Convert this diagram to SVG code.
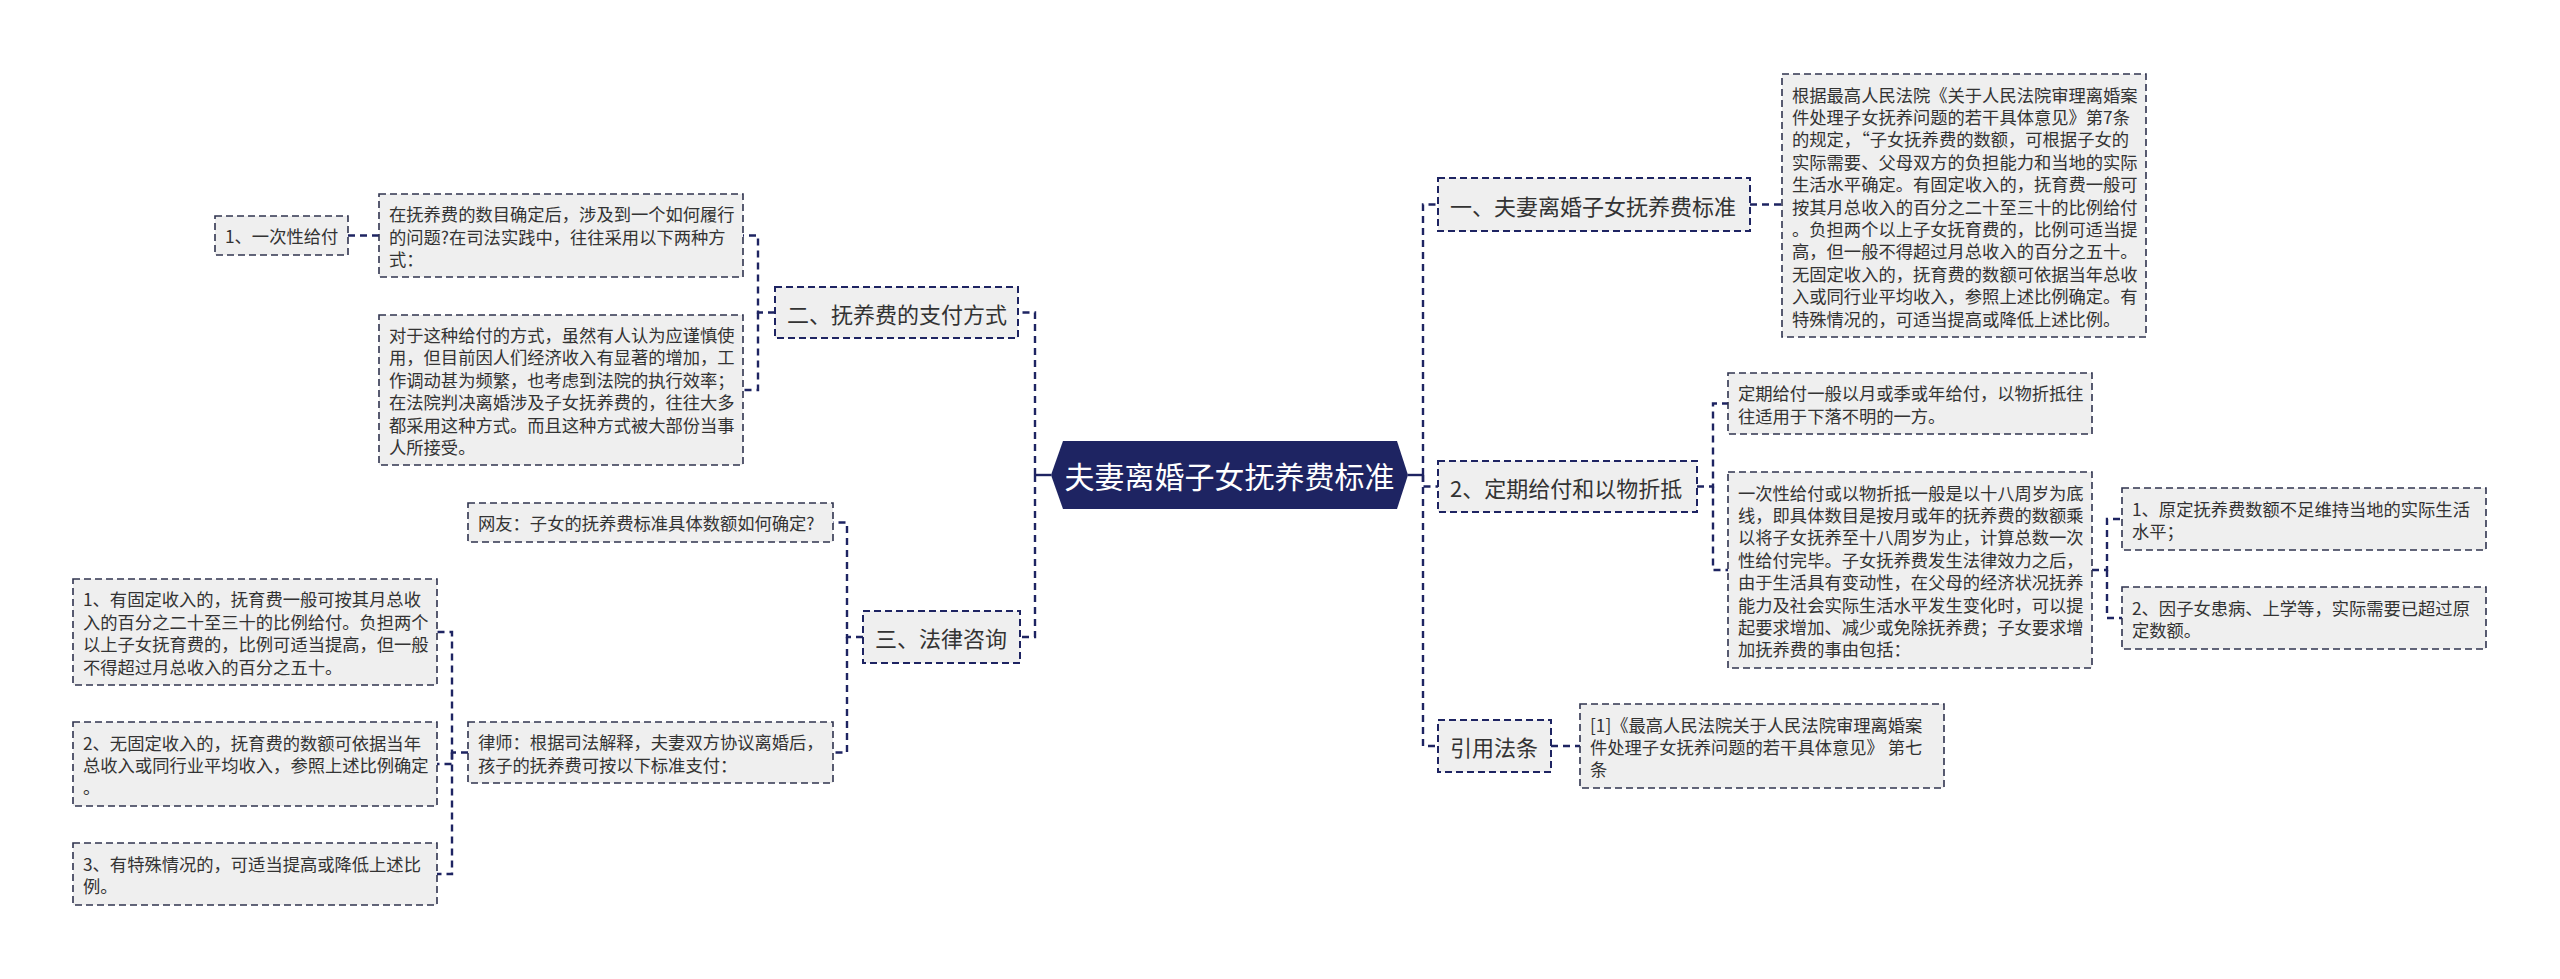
<svg xmlns="http://www.w3.org/2000/svg" width="2560" height="979" viewBox="0 0 2560 979">
<style>
text{font-family:"Noto Sans CJK SC","Microsoft YaHei",sans-serif;dominant-baseline:central;fill:#333333}
.d rect{fill:#efefef;stroke:#30344f;stroke-width:1.6;stroke-dasharray:7 4}
.d text{font-size:17.3px}
.n rect{fill:#efefef;stroke:#1e2462;stroke-width:2;stroke-dasharray:7 4}
.n text{font-size:22px}
.c{fill:none;stroke:#1e2462;stroke-width:2.4;stroke-dasharray:7 5}
.s{fill:none;stroke:#1e2462;stroke-width:2.4}
</style>
<rect width="2560" height="979" fill="#ffffff"/>
<g id="connectors">
<path class="s" d="M1408 475 H1423"/>
<path class="s" d="M1051 475 H1035"/>
<path class="c" d="M1423 475 V204.5 H1438"/>
<path class="c" d="M1423 475 V486.5 H1438"/>
<path class="c" d="M1423 475 V746 H1438"/>
<path class="c" d="M1750 204.5 H1782"/>
<path class="c" d="M1697 486.5 H1713 V403.5 H1728"/>
<path class="c" d="M1713 486.5 V570 H1728"/>
<path class="c" d="M2092 570 H2107 V519 H2122"/>
<path class="c" d="M2107 570 V618 H2122"/>
<path class="c" d="M1551 746 H1580"/>
<path class="c" d="M1035 475 V312.5 H1018"/>
<path class="c" d="M1035 475 V637 H1020"/>
<path class="c" d="M775 312.5 H758 V235.5 H743"/>
<path class="c" d="M758 312.5 V390 H743"/>
<path class="c" d="M379 235.5 H348"/>
<path class="c" d="M863 637 H847 V522.5 H833"/>
<path class="c" d="M847 637 V752.5 H833"/>
<path class="c" d="M468 752.5 H452 V632 H437"/>
<path class="c" d="M452 752.5 V764 H437"/>
<path class="c" d="M452 752.5 V874 H437"/>
</g>
<g id="root">
<polygon points="1051,475 1063,441 1397,441 1408,475 1397,509 1063,509" fill="#1e2462"/>
<text x="1229.5" y="475" text-anchor="middle" style="font-size:30px;fill:#ffffff">夫妻离婚子女抚养费标准</text>
</g>
<g id="n_std" class="n"><rect x="1438" y="178" width="312" height="53"/><text x="1450" y="204.5">一、夫妻离婚子女抚养费标准</text></g>
<g id="d_std" class="d"><rect x="1782" y="74" width="364" height="263"/>
<text><tspan x="1792" y="93.5">根据最高人民法院《关于人民法院审理离婚案</tspan><tspan x="1792" y="115.9">件处理子女抚养问题的若干具体意见》第7条</tspan><tspan x="1792" y="138.3">的规定，“子女抚养费的数额，可根据子女的</tspan><tspan x="1792" y="160.7">实际需要、父母双方的负担能力和当地的实际</tspan><tspan x="1792" y="183.1">生活水平确定。有固定收入的，抚育费一般可</tspan><tspan x="1792" y="205.5">按其月总收入的百分之二十至三十的比例给付</tspan><tspan x="1792" y="227.9">。负担两个以上子女抚育费的，比例可适当提</tspan><tspan x="1792" y="250.3">高，但一般不得超过月总收入的百分之五十。</tspan><tspan x="1792" y="272.7">无固定收入的，抚育费的数额可依据当年总收</tspan><tspan x="1792" y="295.1">入或同行业平均收入，参照上述比例确定。有</tspan><tspan x="1792" y="317.5">特殊情况的，可适当提高或降低上述比例。</tspan></text></g>
<g id="n_periodic" class="n"><rect x="1438" y="461" width="259" height="51"/><text x="1450" y="486.5">2、定期给付和以物折抵</text></g>
<g id="d_p1" class="d"><rect x="1728" y="373" width="364" height="61"/>
<text><tspan x="1738" y="392.3">定期给付一般以月或季或年给付，以物折抵往</tspan><tspan x="1738" y="414.7">往适用于下落不明的一方。</tspan></text></g>
<g id="d_p2" class="d"><rect x="1728" y="472" width="364" height="196"/>
<text><tspan x="1738" y="491.6">一次性给付或以物折抵一般是以十八周岁为底</tspan><tspan x="1738" y="514">线，即具体数目是按月或年的抚养费的数额乘</tspan><tspan x="1738" y="536.4">以将子女抚养至十八周岁为止，计算总数一次</tspan><tspan x="1738" y="558.8">性给付完毕。子女抚养费发生法律效力之后，</tspan><tspan x="1738" y="581.2">由于生活具有变动性，在父母的经济状况抚养</tspan><tspan x="1738" y="603.6">能力及社会实际生活水平发生变化时，可以提</tspan><tspan x="1738" y="626">起要求增加、减少或免除抚养费；子女要求增</tspan><tspan x="1738" y="648.4">加抚养费的事由包括：</tspan></text></g>
<g id="d_r1" class="d"><rect x="2122" y="488" width="364" height="62"/>
<text><tspan x="2132" y="508">1、原定抚养费数额不足维持当地的实际生活</tspan><tspan x="2132" y="530.4">水平；</tspan></text></g>
<g id="d_r2" class="d"><rect x="2122" y="587" width="364" height="62"/>
<text><tspan x="2132" y="607">2、因子女患病、上学等，实际需要已超过原</tspan><tspan x="2132" y="629.4">定数额。</tspan></text></g>
<g id="n_law" class="n"><rect x="1438" y="720" width="113" height="52"/><text x="1450" y="746">引用法条</text></g>
<g id="d_law" class="d"><rect x="1580" y="704" width="364" height="84"/>
<text><tspan x="1590" y="723.6">[1]《最高人民法院关于人民法院审理离婚案</tspan><tspan x="1590" y="746">件处理子女抚养问题的若干具体意见》 第七</tspan><tspan x="1590" y="768.4">条</tspan></text></g>
<g id="n_pay" class="n"><rect x="775" y="287" width="243" height="51"/><text x="787" y="312.5">二、抚养费的支付方式</text></g>
<g id="d_pay1" class="d"><rect x="379" y="194" width="364" height="83"/>
<text><tspan x="389" y="213.1">在抚养费的数目确定后，涉及到一个如何履行</tspan><tspan x="389" y="235.5">的问题?在司法实践中，往往采用以下两种方</tspan><tspan x="389" y="257.9">式：</tspan></text></g>
<g id="d_pay2" class="d"><rect x="379" y="315" width="364" height="150"/>
<text><tspan x="389" y="334">对于这种给付的方式，虽然有人认为应谨慎使</tspan><tspan x="389" y="356.4">用，但目前因人们经济收入有显著的增加，工</tspan><tspan x="389" y="378.8">作调动甚为频繁，也考虑到法院的执行效率；</tspan><tspan x="389" y="401.2">在法院判决离婚涉及子女抚养费的，往往大多</tspan><tspan x="389" y="423.6">都采用这种方式。而且这种方式被大部份当事</tspan><tspan x="389" y="446">人所接受。</tspan></text></g>
<g id="n_once" class="d"><rect x="215" y="216" width="133" height="39"/><text x="225" y="235.5">1、一次性给付</text></g>
<g id="n_consult" class="n"><rect x="863" y="611" width="157" height="52"/><text x="875" y="637">三、法律咨询</text></g>
<g id="d_q" class="d"><rect x="468" y="503" width="365" height="39"/><text x="478" y="522.5">网友：子女的抚养费标准具体数额如何确定?</text></g>
<g id="d_a" class="d"><rect x="468" y="722" width="365" height="61"/>
<text><tspan x="478" y="741.3">律师：根据司法解释，夫妻双方协议离婚后，</tspan><tspan x="478" y="763.7">孩子的抚养费可按以下标准支付：</tspan></text></g>
<g id="d_s1" class="d"><rect x="73" y="579" width="364" height="106"/>
<text><tspan x="83" y="598.4">1、有固定收入的，抚育费一般可按其月总收</tspan><tspan x="83" y="620.8">入的百分之二十至三十的比例给付。负担两个</tspan><tspan x="83" y="643.2">以上子女抚育费的，比例可适当提高，但一般</tspan><tspan x="83" y="665.6">不得超过月总收入的百分之五十。</tspan></text></g>
<g id="d_s2" class="d"><rect x="73" y="722" width="364" height="84"/>
<text><tspan x="83" y="741.6">2、无固定收入的，抚育费的数额可依据当年</tspan><tspan x="83" y="764">总收入或同行业平均收入，参照上述比例确定</tspan><tspan x="83" y="786.4">。</tspan></text></g>
<g id="d_s3" class="d"><rect x="73" y="843" width="364" height="62"/>
<text><tspan x="83" y="863">3、有特殊情况的，可适当提高或降低上述比</tspan><tspan x="83" y="885.4">例。</tspan></text></g>
</svg>
